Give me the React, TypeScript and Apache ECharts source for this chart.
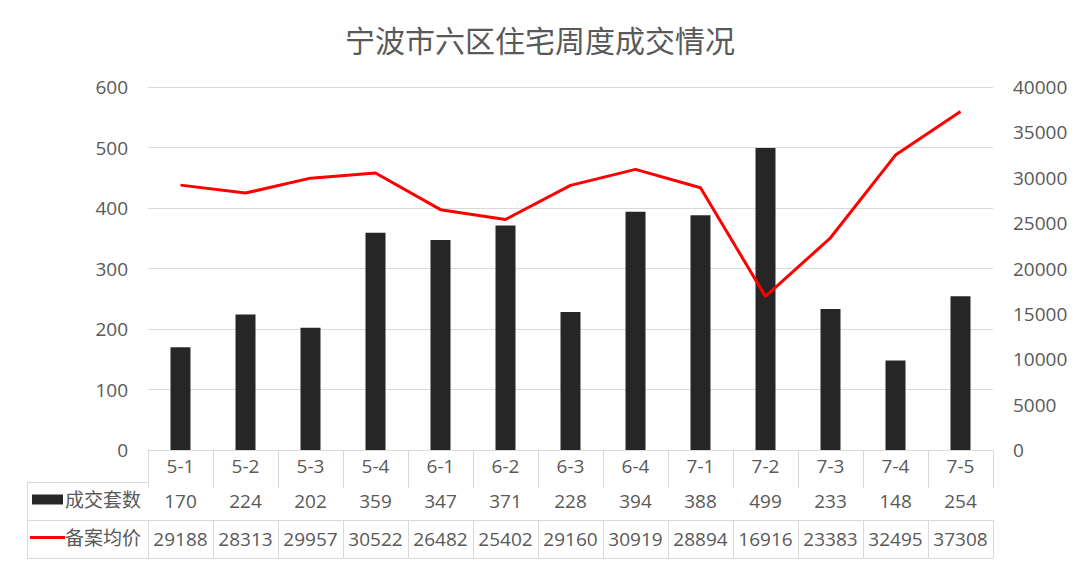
import React, { useEffect, useRef } from "react";
import * as echarts from "echarts";

const categories = ["5-1", "5-2", "5-3", "5-4", "6-1", "6-2", "6-3", "6-4", "7-1", "7-2", "7-3", "7-4", "7-5"];
const deals = [170, 224, 202, 359, 347, 371, 228, 394, 388, 499, 233, 148, 254];
const prices = [29188, 28313, 29957, 30522, 26482, 25402, 29160, 30919, 28894, 16916, 23383, 32495, 37308];
const dealName = "成交套数";
const priceName = "备案均价";
const titleText = "宁波市六区住宅周度成交情况";

const FONT = "'Open Sans', 'Noto Sans CJK SC', sans-serif";
const TXT = "#595959";
const LINE = "#d9d9d9";

export default function App() {
  const ref = useRef<HTMLDivElement>(null);
  useEffect(() => {
    const chart = echarts.init(ref.current!, null, { renderer: "svg" });
    const labelStyle = { fontSize: 19, color: TXT, fontFamily: FONT };
    const tableAxis = (data: (string | number)[], offset: number, margin: number, showLabel: boolean, tickLen: number) => ({
      type: "category",
      data: data.map(String),
      position: "bottom",
      offset,
      boundaryGap: true,
      axisLine: { show: true, lineStyle: { color: LINE, width: 1 } },
      axisTick: { show: tickLen > 0, length: tickLen, interval: 0, lineStyle: { color: LINE, width: 1 } },
      axisLabel: { show: showLabel, interval: 0, margin, ...labelStyle },
      splitLine: { show: false },
    });
    chart.setOption({
      animation: false,
      backgroundColor: "#ffffff",
      textStyle: { fontFamily: FONT },
      title: {
        text: titleText,
        left: "center",
        top: 24,
        padding: 0,
        textStyle: { fontSize: 30, fontWeight: "normal", color: TXT, fontFamily: "'Noto Sans CJK SC', sans-serif" },
      },
      legend: [
        {
          data: [{ name: dealName, icon: "rect" }],
          left: 32,
          top: 490,
          padding: 0,
          itemWidth: 31,
          itemHeight: 10,
          itemGap: 0,
          selectedMode: false,
          textStyle: { ...labelStyle, padding: [0, 0, 0, -3] },
        },
        {
          data: [{ name: priceName, icon: "rect", itemStyle: { color: "#ff0000" } }],
          left: 30,
          top: 528,
          padding: 0,
          itemWidth: 35,
          itemHeight: 3,
          itemGap: 0,
          selectedMode: false,
          textStyle: { ...labelStyle, padding: [0, 0, 0, -5] },
        },
      ],
      grid: { left: 148, right: 87, top: 87, bottom: 118, containLabel: false },
      xAxis: [
        tableAxis(categories, 0, 6, true, 32),
        tableAxis(deals, 32, 9, true, 38),
        tableAxis(prices, 70, 9, true, 38),
        tableAxis(categories, 108, 0, false, 0),
      ],
      yAxis: [
        {
          type: "value",
          min: 0,
          max: 600,
          interval: 100,
          axisLine: { show: false },
          axisTick: { show: false },
          axisLabel: { margin: 20, ...labelStyle },
          splitLine: { show: true, lineStyle: { color: LINE, width: 1 } },
        },
        {
          type: "value",
          min: 0,
          max: 40000,
          interval: 5000,
          position: "right",
          axisLine: { show: false },
          axisTick: { show: false },
          axisLabel: { margin: 20, align: "left", formatter: (v: number) => String(v), ...labelStyle },
          splitLine: { show: false },
        },
      ],
      series: [
        {
          name: dealName,
          type: "bar",
          data: deals,
          xAxisIndex: 0,
          yAxisIndex: 0,
          barWidth: 20,
          itemStyle: { color: "#262626" },
        },
        {
          name: priceName,
          type: "line",
          data: prices,
          xAxisIndex: 0,
          yAxisIndex: 1,
          symbol: "none",
          lineStyle: { color: "#ff0000", width: 3 },
          itemStyle: { color: "#ff0000" },
        },
      ],
      graphic: [
        { type: "line", shape: { x1: 27, y1: 482.5, x2: 148, y2: 482.5 }, style: { stroke: LINE, lineWidth: 1 } },
        { type: "line", shape: { x1: 27, y1: 520.5, x2: 148, y2: 520.5 }, style: { stroke: LINE, lineWidth: 1 } },
        { type: "line", shape: { x1: 27, y1: 558.5, x2: 148, y2: 558.5 }, style: { stroke: LINE, lineWidth: 1 } },
        { type: "line", shape: { x1: 27.5, y1: 482, x2: 27.5, y2: 559 }, style: { stroke: LINE, lineWidth: 1 } },
      ],
    });
    return () => chart.dispose();
  }, []);
  return (
    <div
      ref={ref}
      style={{ position: "fixed", left: 0, top: 0, width: 1080, height: 568, background: "#fff" }}
    />
  );
}
